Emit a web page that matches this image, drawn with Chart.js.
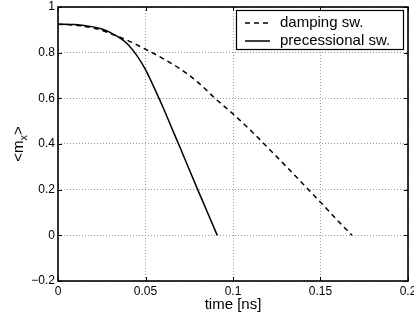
<!DOCTYPE html>
<html>
<head>
<meta charset="utf-8">
<script src="https://cdn.jsdelivr.net/npm/chart.js@4.4.0/dist/chart.umd.min.js"></script>
<style>
  html, body { margin: 0; padding: 0; background: #fff; }
  #wrap { width: 414px; height: 320px; }
</style>
</head>
<body>
<div id="wrap"><canvas id="chart" width="414" height="320"></canvas></div>
<script>
// damping switching
const timeDamping = [0, 0.01, 0.02, 0.025, 0.03, 0.04, 0.05, 0.06, 0.07, 0.08, 0.09, 0.10, 0.11, 0.12, 0.13, 0.14, 0.15, 0.16, 0.168];
const mxDamping   = [0.925, 0.920, 0.908, 0.898, 0.883, 0.853, 0.815, 0.774, 0.728, 0.670, 0.598, 0.532, 0.460, 0.383, 0.305, 0.225, 0.145, 0.063, 0.0];

// precessional switching
const timePrecess = [0, 0.01, 0.02, 0.025, 0.03, 0.035, 0.04, 0.045, 0.05, 0.055, 0.06, 0.065, 0.07, 0.075, 0.08, 0.085, 0.091];
const mxPrecess   = [0.925, 0.923, 0.913, 0.904, 0.888, 0.866, 0.836, 0.788, 0.726, 0.646, 0.561, 0.470, 0.380, 0.288, 0.197, 0.108, 0.0];

const seriesLabels = ["damping sw.", "precessional sw."];
const xTicks = [0, 0.05, 0.1, 0.15, 0.2];
const yTicks = [-0.2, 0, 0.2, 0.4, 0.6, 0.8, 1];

const FONT = "'Liberation Sans', Arial, Helvetica, sans-serif";

function pts(xs, ys) {
  return xs.map((x, i) => ({ x: x, y: ys[i] }));
}

function fmt(v) {
  const s = String(Math.round(v * 1000) / 1000);
  return s.replace("-", "\u2212");
}

// box, inward ticks, y label and legend like the matlab figure
const matlabFrame = {
  id: "matlabFrame",
  afterDraw(chart) {
    const ctx = chart.ctx;
    const a = chart.chartArea;
    const xs = chart.scales.x, ys = chart.scales.y;
    ctx.save();
    ctx.strokeStyle = "#000";
    ctx.lineWidth = 1;
    ctx.beginPath();
    xTicks.forEach(v => {
      const px = Math.round(xs.getPixelForValue(v)) + 0.5;
      ctx.moveTo(px, a.bottom); ctx.lineTo(px, a.bottom - 4);
      ctx.moveTo(px, a.top); ctx.lineTo(px, a.top + 4);
    });
    yTicks.forEach(v => {
      const py = Math.round(ys.getPixelForValue(v)) + 0.5;
      ctx.moveTo(a.left, py); ctx.lineTo(a.left + 4, py);
      ctx.moveTo(a.right, py); ctx.lineTo(a.right - 4, py);
    });
    ctx.stroke();
    ctx.lineWidth = 1.6;
    ctx.strokeRect(a.left, a.top, a.right - a.left, a.bottom - a.top);

    // y label <m_x>
    ctx.translate(19, (a.top + a.bottom) / 2);
    ctx.rotate(-Math.PI / 2);
    ctx.fillStyle = "#000";
    ctx.textBaseline = "middle";
    const t1 = "<m", t3 = ">";
    ctx.font = "11px " + FONT;
    const w2 = ctx.measureText("x").width;
    ctx.font = "15px " + FONT;
    const w1 = ctx.measureText(t1).width, w3 = ctx.measureText(t3).width;
    let x0 = -(w1 + w2 + w3) / 2;
    ctx.fillText(t1, x0, 0);
    ctx.font = "11px " + FONT;
    ctx.fillText("x", x0 + w1, 5);
    ctx.font = "15px " + FONT;
    ctx.fillText(t3, x0 + w1 + w2, 0);
    ctx.restore();

    // legend
    ctx.save();
    const lx = 236, ly = 10, lw = 167, lh = 39;
    ctx.fillStyle = "#fff";
    ctx.fillRect(lx, ly, lw, lh);
    ctx.strokeStyle = "#000";
    ctx.lineWidth = 1.2;
    ctx.strokeRect(lx + 0.5, ly + 0.5, lw, lh);
    ctx.font = "15px " + FONT;
    ctx.textBaseline = "middle";
    chart.data.datasets.forEach((ds, i) => {
      const y = ly + 13 + i * 18;
      ctx.beginPath();
      ctx.setLineDash(ds.borderDash || []);
      ctx.lineWidth = ds.borderWidth;
      ctx.moveTo(lx + 9, y);
      ctx.lineTo(lx + 34, y);
      ctx.stroke();
      ctx.setLineDash([]);
      ctx.fillStyle = "#000";
      ctx.fillText(ds.label, lx + 44, y);
    });
    ctx.restore();
  }
};

new Chart(document.getElementById("chart"), {
  type: "line",
  data: {
    datasets: [
      {
        label: seriesLabels[0],
        data: pts(timeDamping, mxDamping),
        borderColor: "#000",
        borderWidth: 1.5,
        borderDash: [5, 4],
        pointRadius: 0,
        cubicInterpolationMode: "monotone",
        fill: false
      },
      {
        label: seriesLabels[1],
        data: pts(timePrecess, mxPrecess),
        borderColor: "#000",
        borderWidth: 1.5,
        pointRadius: 0,
        cubicInterpolationMode: "monotone",
        fill: false
      }
    ]
  },
  options: {
    responsive: false,
    animation: false,
    layout: { padding: { top: 7, right: 6, left: 0, bottom: 0 } },
    plugins: { legend: { display: false }, tooltip: { enabled: false } },
    scales: {
      x: {
        type: "linear",
        min: 0, max: 0.2,
        afterBuildTicks: s => { s.ticks = xTicks.map(v => ({ value: v })); },
        afterFit: s => { s.height = 39; s.paddingLeft = 0; s.paddingRight = 0; },
        ticks: {
          color: "#000",
          font: { family: FONT, size: 12 },
          padding: 3,
          maxRotation: 0,
          callback: v => fmt(v)
        },
        grid: { color: "#9a9a9a", lineWidth: 1, drawTicks: false },
        border: { display: false, dash: [1, 2] },
        title: {
          display: true,
          text: "time [ns]",
          color: "#000",
          font: { family: FONT, size: 15 },
          padding: { top: 6, bottom: 6 }
        }
      },
      y: {
        type: "linear",
        min: -0.2, max: 1,
        afterBuildTicks: s => { s.ticks = yTicks.map(v => ({ value: v })); },
        afterFit: s => { s.width = 58; s.paddingTop = 0; s.paddingBottom = 0; },
        ticks: {
          color: "#000",
          font: { family: FONT, size: 12 },
          padding: 3,
          callback: v => fmt(v)
        },
        grid: { color: "#9a9a9a", lineWidth: 1, drawTicks: false },
        border: { display: false, dash: [1, 2] }
      }
    }
  },
  plugins: [matlabFrame]
});
</script>
</body>
</html>
